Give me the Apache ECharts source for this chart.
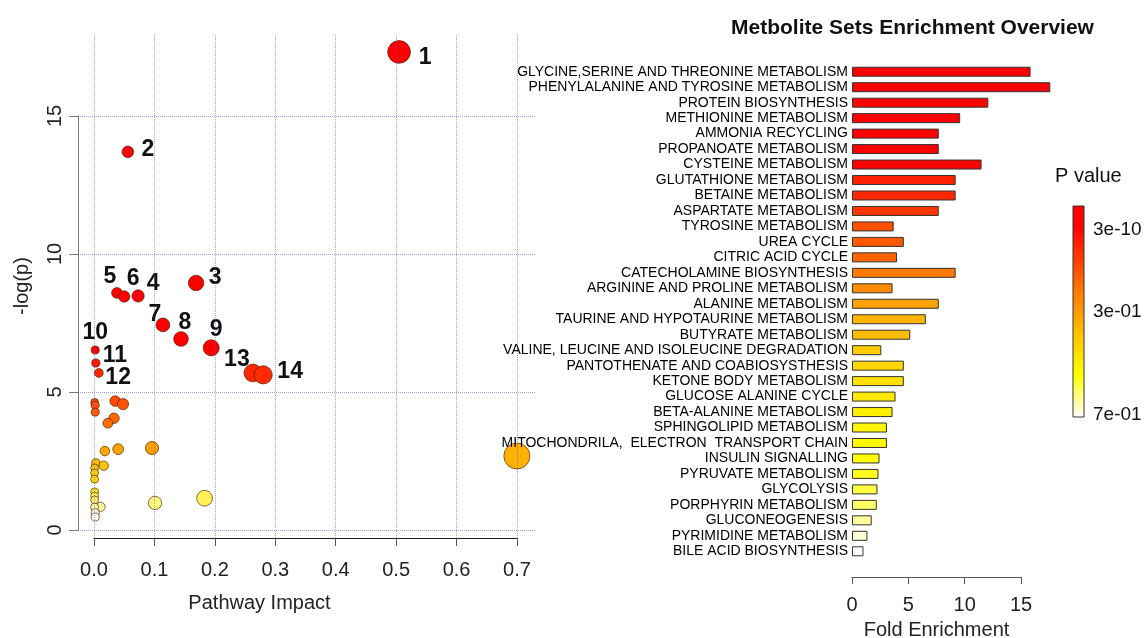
<!DOCTYPE html>
<html>
<head>
<meta charset="utf-8">
<script src="https://cdn.jsdelivr.net/npm/echarts@6/dist/echarts.min.js"></script>
<style>
  html, body { margin: 0; padding: 0; background: #fff; }
  #chart { width: 1148px; height: 638px; }
</style>
</head>
<body>
<div id="chart"></div>
<script>
// ---- pathway impact scatter (left) ----
const impact = [0.505, 0.056, 0.169, 0.073, 0.038, 0.050, 0.114, 0.144, 0.194, 0.002, 0.003, 0.035, 0.263, 0.280,
  0.008, 0.001, 0.002, 0.002, 0.048, 0.033, 0.023, 0.018, 0.040, 0.096, 0.003, 0.016,
  0.001, 0.001, 0.001, 0.001, 0.001, 0.001, 0.011, 0.001, 0.002, 0.002, 0.101, 0.183, 0.700]
const negLogP = [17.32, 13.70, 8.95, 8.48, 8.59, 8.46, 7.43, 6.92, 6.60, 6.52, 6.05, 4.67, 5.69, 5.62,
  5.69, 4.62, 4.52, 4.27, 4.56, 4.05, 3.87, 2.86, 2.93, 2.97, 2.43, 2.33,
  2.25, 2.07, 1.84, 1.38, 1.23, 1.09, 0.84, 0.83, 0.62, 0.47, 0.98, 1.15, 2.68]
const pointLabels = ['1', '2', '3', '4', '5', '6', '7', '8', '9', '10', '11', '12', '13', '14']
const impactTicks = [0, 0.1, 0.2, 0.3, 0.4, 0.5, 0.6, 0.7]
const logPTicks = [0, 5, 10, 15]

// ---- enrichment overview bars (right) ----
const pathwayNames = [
  'GLYCINE,SERINE AND THREONINE METABOLISM',
  'PHENYLALANINE AND TYROSINE METABOLISM',
  'PROTEIN BIOSYNTHESIS',
  'METHIONINE METABOLISM',
  'AMMONIA RECYCLING',
  'PROPANOATE METABOLISM',
  'CYSTEINE METABOLISM',
  'GLUTATHIONE METABOLISM',
  'BETAINE METABOLISM',
  'ASPARTATE METABOLISM',
  'TYROSINE METABOLISM',
  'UREA CYCLE',
  'CITRIC ACID CYCLE',
  'CATECHOLAMINE BIOSYNTHESIS',
  'ARGININE AND PROLINE METABOLISM',
  'ALANINE METABOLISM',
  'TAURINE AND HYPOTAURINE METABOLISM',
  'BUTYRATE METABOLISM',
  'VALINE, LEUCINE AND ISOLEUCINE DEGRADATION',
  'PANTOTHENATE AND COABIOSYSTHESIS',
  'KETONE BODY METABOLISM',
  'GLUCOSE ALANINE CYCLE',
  'BETA-ALANINE METABOLISM',
  'SPHINGOLIPID METABOLISM',
  'MITOCHONDRILA,  ELECTRON  TRANSPORT CHAIN',
  'INSULIN SIGNALLING',
  'PYRUVATE METABOLISM',
  'GLYCOLYSIS',
  'PORPHYRIN METABOLISM',
  'GLUCONEOGENESIS',
  'PYRIMIDINE METABOLISM',
  'BILE ACID BIOSYNTHESIS'
]
const foldEnrichment = [15.85, 17.6, 12.1, 9.6, 7.7, 7.7, 11.5, 9.2, 9.2, 7.7, 3.7, 4.6, 4.0, 9.2, 3.6, 7.7,
  6.55, 5.17, 2.6, 4.6, 4.6, 3.86, 3.6, 3.1, 3.1, 2.44, 2.35, 2.26, 2.2, 1.75, 1.37, 1.02]
// position on the p-value colour scale (1 = most significant)
const barSignif = [1, 1, 1, 0.98, 0.97, 0.96, 0.95, 0.82, 0.8, 0.76, 0.7, 0.68, 0.65, 0.6, 0.54, 0.48,
  0.43, 0.41, 0.36, 0.33, 0.3, 0.27, 0.25, 0.23, 0.215, 0.2, 0.18, 0.15, 0.12, 0.08, 0.035, 0]
const foldTicks = [0, 5, 10, 15]
const legendLabels = ['3e-10', '3e-01', '7e-01']

// styling
const FONT = "'Liberation Sans', Arial, sans-serif"
const barPalette = ['#FFFFFF', '#FFFF80', '#FFFF00', '#FFE000', '#FFC000', '#FF9A00',
  '#FF7800', '#FF5000', '#FF2800', '#FF0000', '#FF0000']
const scatterPalette = ['#FFFFFF', '#FFEE10', '#FFBE00', '#FF8400', '#FF5200', '#FF3400', '#FF0000']
const labelOffsets = {
  '1': [26, 6], '2': [20, -2], '3': [19, -5], '4': [15, -12], '5': [-7, -16], '6': [9, -18],
  '7': [-8, -10], '8': [4, -16], '9': [5, -18], '10': [0, -17], '11': [19, -7], '12': [3, -23],
  '13': [-16, -13], '14': [27, -3]
}

const scatterData = impact.map((x, i) => {
  const lab = pointLabels[i] || ''
  return {
    value: [x, negLogP[i]],
    label: lab ? { show: true, formatter: lab, offset: labelOffsets[lab] } : { show: false }
  }
})

const barData = foldEnrichment.map((v, i) => [v, pathwayNames[i], barSignif[i]])

const gridColor = 'rgba(80,80,230,0.55)'

const chart = echarts.init(document.getElementById('chart'))
chart.setOption({
  backgroundColor: '#fff',
  animation: false,
  textStyle: { fontFamily: FONT },
  title: {
    text: 'Metbolite Sets Enrichment Overview',
    left: 726,
    top: 13,
    textStyle: { fontFamily: FONT, fontSize: 21, fontWeight: 'bold', color: '#111' }
  },
  grid: [
    { left: 78, right: 613, top: 34, bottom: 100, containLabel: false, outerBoundsMode: 'none' },
    { left: 94, right: 631, top: 116, bottom: 108, containLabel: false, outerBoundsMode: 'none' },
    { left: 852, right: 127, top: 64, bottom: 79, containLabel: false, outerBoundsMode: 'none' }
  ],
  xAxis: [
    {
      gridIndex: 0, type: 'value', min: -0.0265, max: 0.73,
      axisLine: { show: false }, axisTick: { show: false }, axisLabel: { show: false }, splitLine: { show: false }
    },
    {
      gridIndex: 1, type: 'value', min: 0, max: 0.7, interval: 0.1, offset: 8,
      axisLine: { show: true, onZero: false, lineStyle: { color: '#222', width: 1.2 } },
      axisTick: { show: true, length: 8, lineStyle: { color: '#555' } },
      axisLabel: { fontSize: 20, color: '#222', margin: 22, formatter: (v) => v.toFixed(1) },
      splitLine: { show: false },
      name: 'Pathway Impact', nameLocation: 'middle', nameGap: 55,
      nameTextStyle: { fontSize: 20, color: '#222', padding: [0, 92, 0, 0] }
    },
    {
      gridIndex: 2, type: 'value', min: 0, max: 15, interval: 5, offset: 18,
      axisLine: { show: true, onZero: false, lineStyle: { color: '#555' } },
      axisTick: { show: true, length: 7, lineStyle: { color: '#555' } },
      axisLabel: { fontSize: 20, color: '#222', margin: 18 },
      splitLine: { show: false },
      name: 'Fold Enrichment', nameLocation: 'middle', nameGap: 43,
      nameTextStyle: { fontSize: 20, color: '#222' }
    }
  ],
  yAxis: [
    {
      gridIndex: 0, type: 'value', min: -0.29, max: 17.97,
      axisLine: { show: false }, axisTick: { show: false }, axisLabel: { show: false }, splitLine: { show: false },
      name: '-log(p)', nameLocation: 'middle', nameGap: 46,
      nameTextStyle: { fontSize: 20, color: '#222' }
    },
    {
      gridIndex: 1, type: 'value', min: 0, max: 15, interval: 5, offset: 16,
      axisLine: { show: true, onZero: false, lineStyle: { color: '#777' } },
      axisTick: { show: true, length: 9, lineStyle: { color: '#777' } },
      axisLabel: { fontSize: 20, color: '#222', rotate: 90, margin: 13 },
      splitLine: { show: false }
    },
    {
      gridIndex: 2, type: 'category', data: pathwayNames, inverse: true, z: 10,
      axisLine: { show: false }, axisTick: { show: false },
      axisLabel: { interval: 0, fontSize: 14, color: '#000', margin: 4 }
    }
  ],
  visualMap: [
    {
      type: 'continuous', show: false, seriesIndex: 1, dimension: 1,
      min: 0.45, max: 6.45, inRange: { color: scatterPalette }
    },
    {
      type: 'continuous', show: false, seriesIndex: 3, dimension: 2,
      min: 0, max: 1, inRange: { color: barPalette }
    }
  ],
  series: [
    {
      // dotted background grid of the scatter panel
      type: 'line', xAxisIndex: 0, yAxisIndex: 0, data: [], z: 1, silent: true,
      markLine: {
        silent: true, symbol: 'none', label: { show: false },
        lineStyle: { color: gridColor, type: 'dotted', width: 1 },
        data: impactTicks.map((v) => ({ xAxis: v })).concat(logPTicks.map((v) => ({ yAxis: v })))
      }
    },
    {
      type: 'scatter', xAxisIndex: 0, yAxisIndex: 0, z: 3, clip: false,
      data: scatterData,
      symbolSize: (val) => 7.5 + 23 * Math.pow(val[0], 0.6),
      itemStyle: { borderColor: 'rgba(70,25,0,0.8)', borderWidth: 0.8, opacity: 1 },
      label: {
        position: 'inside', fontFamily: "'Liberation Sans Narrow', 'Liberation Sans', Arial, sans-serif",
        fontSize: 23, fontWeight: 'bold', color: '#111'
      }
    },
    { type: 'scatter', xAxisIndex: 1, yAxisIndex: 1, data: [] },
    {
      type: 'bar', xAxisIndex: 2, yAxisIndex: 2, clip: false,
      data: barData, encode: { x: 0, y: 1 },
      barWidth: 10,
      itemStyle: { borderColor: '#333', borderWidth: 1 }
    }
  ],
  graphic: [
    {
      type: 'text', left: 1055, top: 166,
      style: { text: 'P value', font: '20px ' + FONT, fill: '#111' }
    },
    {
      type: 'rect', shape: { x: 1073, y: 206, width: 11, height: 211 },
      style: {
        fill: new echarts.graphic.LinearGradient(0, 0, 0, 1,
          barPalette.slice().reverse().map((c, i, a) => ({ offset: i / (a.length - 1), color: c }))),
        stroke: '#333', lineWidth: 1
      }
    },
    { type: 'text', x: 1093, y: 230, style: { text: legendLabels[0], font: '19px ' + FONT, fill: '#111', verticalAlign: 'middle' } },
    { type: 'text', x: 1093, y: 312, style: { text: legendLabels[1], font: '19px ' + FONT, fill: '#111', verticalAlign: 'middle' } },
    { type: 'text', x: 1093, y: 415, style: { text: legendLabels[2], font: '19px ' + FONT, fill: '#111', verticalAlign: 'middle' } }
  ]
})
</script>
</body>
</html>
